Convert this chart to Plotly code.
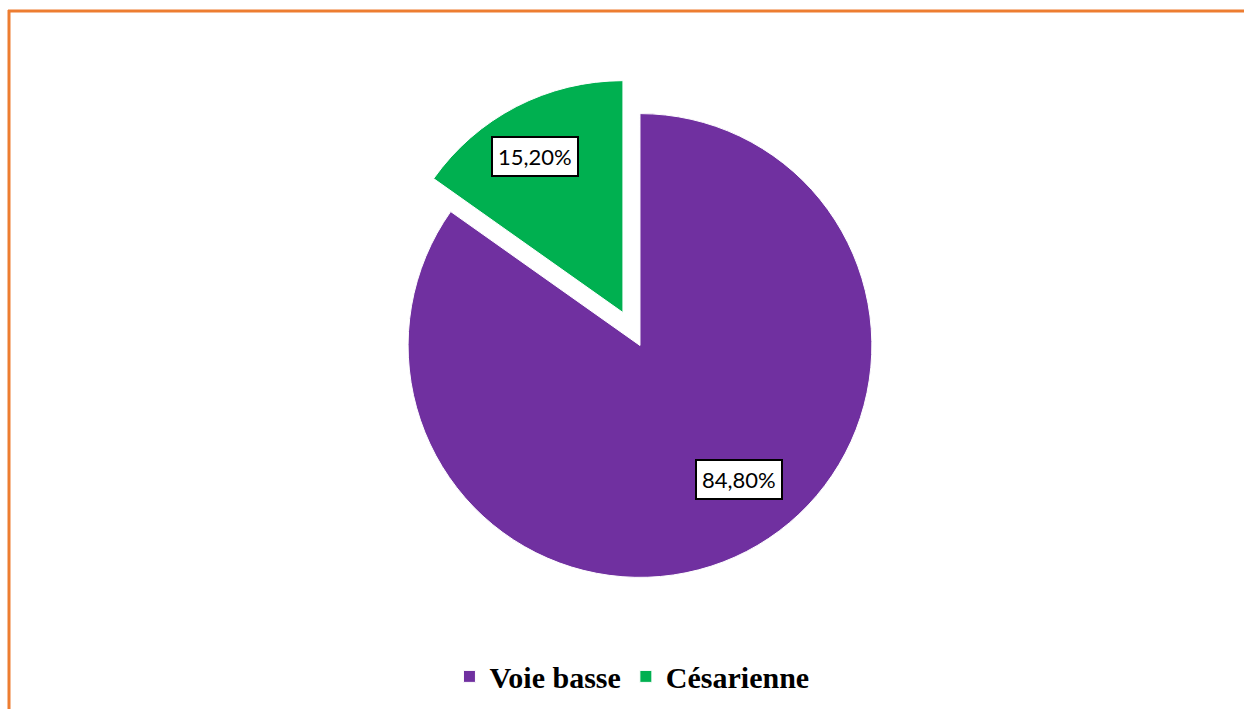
import math
import plotly.graph_objects as go

labels = ["Voie basse", "Césarienne"]
values = [84.8, 15.2]
text_labels = ["84,80%", "15,20%"]
colors = ["#7030A0", "#00B050"]
pulls = [0.0, 0.16]

W, H = 1244, 709
dom_x = [0.2982, 0.7307]
dom_y = [0.1333, 0.8921]
label_radius = [0.72, 0.77]      # fraction of radius at which each label box sits
label_turn = [-9.0, -2.0]        # degrees away from each slice's bisector

fig = go.Figure(go.Pie(
    labels=labels, values=values, sort=False, direction="clockwise", rotation=0,
    marker=dict(colors=colors, line=dict(color="white", width=1)),
    pull=pulls, textinfo="none", hoverinfo="label+percent",
    domain=dict(x=dom_x, y=dom_y),
))

# label boxes, positioned from the data along each slice's bisector
box_w = dom_x[1] - dom_x[0]
box_h = dom_y[1] - dom_y[0]
r = min(box_w * W, box_h * H) / (2 + 2 * max(pulls))
cx = W * (dom_x[0] + dom_x[1]) / 2
cy = H * (1 - (dom_y[0] + dom_y[1]) / 2)
total = sum(values)
cum = 0.0
for lab, v, p, f, turn in zip(text_labels, values, pulls, label_radius, label_turn):
    th = 2 * math.pi * (cum + v / 2) / total
    cum += v
    ccx = cx + p * r * math.sin(th)
    ccy = cy - p * r * math.cos(th)
    tl = th + math.radians(turn)
    px = ccx + f * r * math.sin(tl)
    py = ccy - f * r * math.cos(tl)
    fig.add_annotation(
        x=px / W, y=1 - py / H, xref="paper", yref="paper", text=lab, showarrow=False,
        xanchor="center", yanchor="middle",
        font=dict(family="Lato, Open Sans, sans-serif", size=22, color="black"),
        bgcolor="white", bordercolor="black", borderwidth=2, borderpad=5,
    )

border = "#ED7D31"
fig.add_shape(type="line", xref="paper", yref="paper", x0=9 / W, x1=9 / W, y0=0, y1=1 - 10 / H,
              line=dict(color=border, width=3))
fig.add_shape(type="line", xref="paper", yref="paper", x0=8 / W, x1=1, y0=1 - 11 / H, y1=1 - 11 / H,
              line=dict(color=border, width=3))

fig.update_layout(
    width=W, height=H, margin=dict(l=0, r=0, t=0, b=0),
    paper_bgcolor="white", plot_bgcolor="white",
    showlegend=True,
    legend=dict(orientation="h", x=0.508, xanchor="center", y=0.046, yanchor="middle",
                font=dict(family="Liberation Serif, Times New Roman, serif", size=30, color="black",
                          weight="bold"),
                itemwidth=30),
)

fig.write_html("out.html")
